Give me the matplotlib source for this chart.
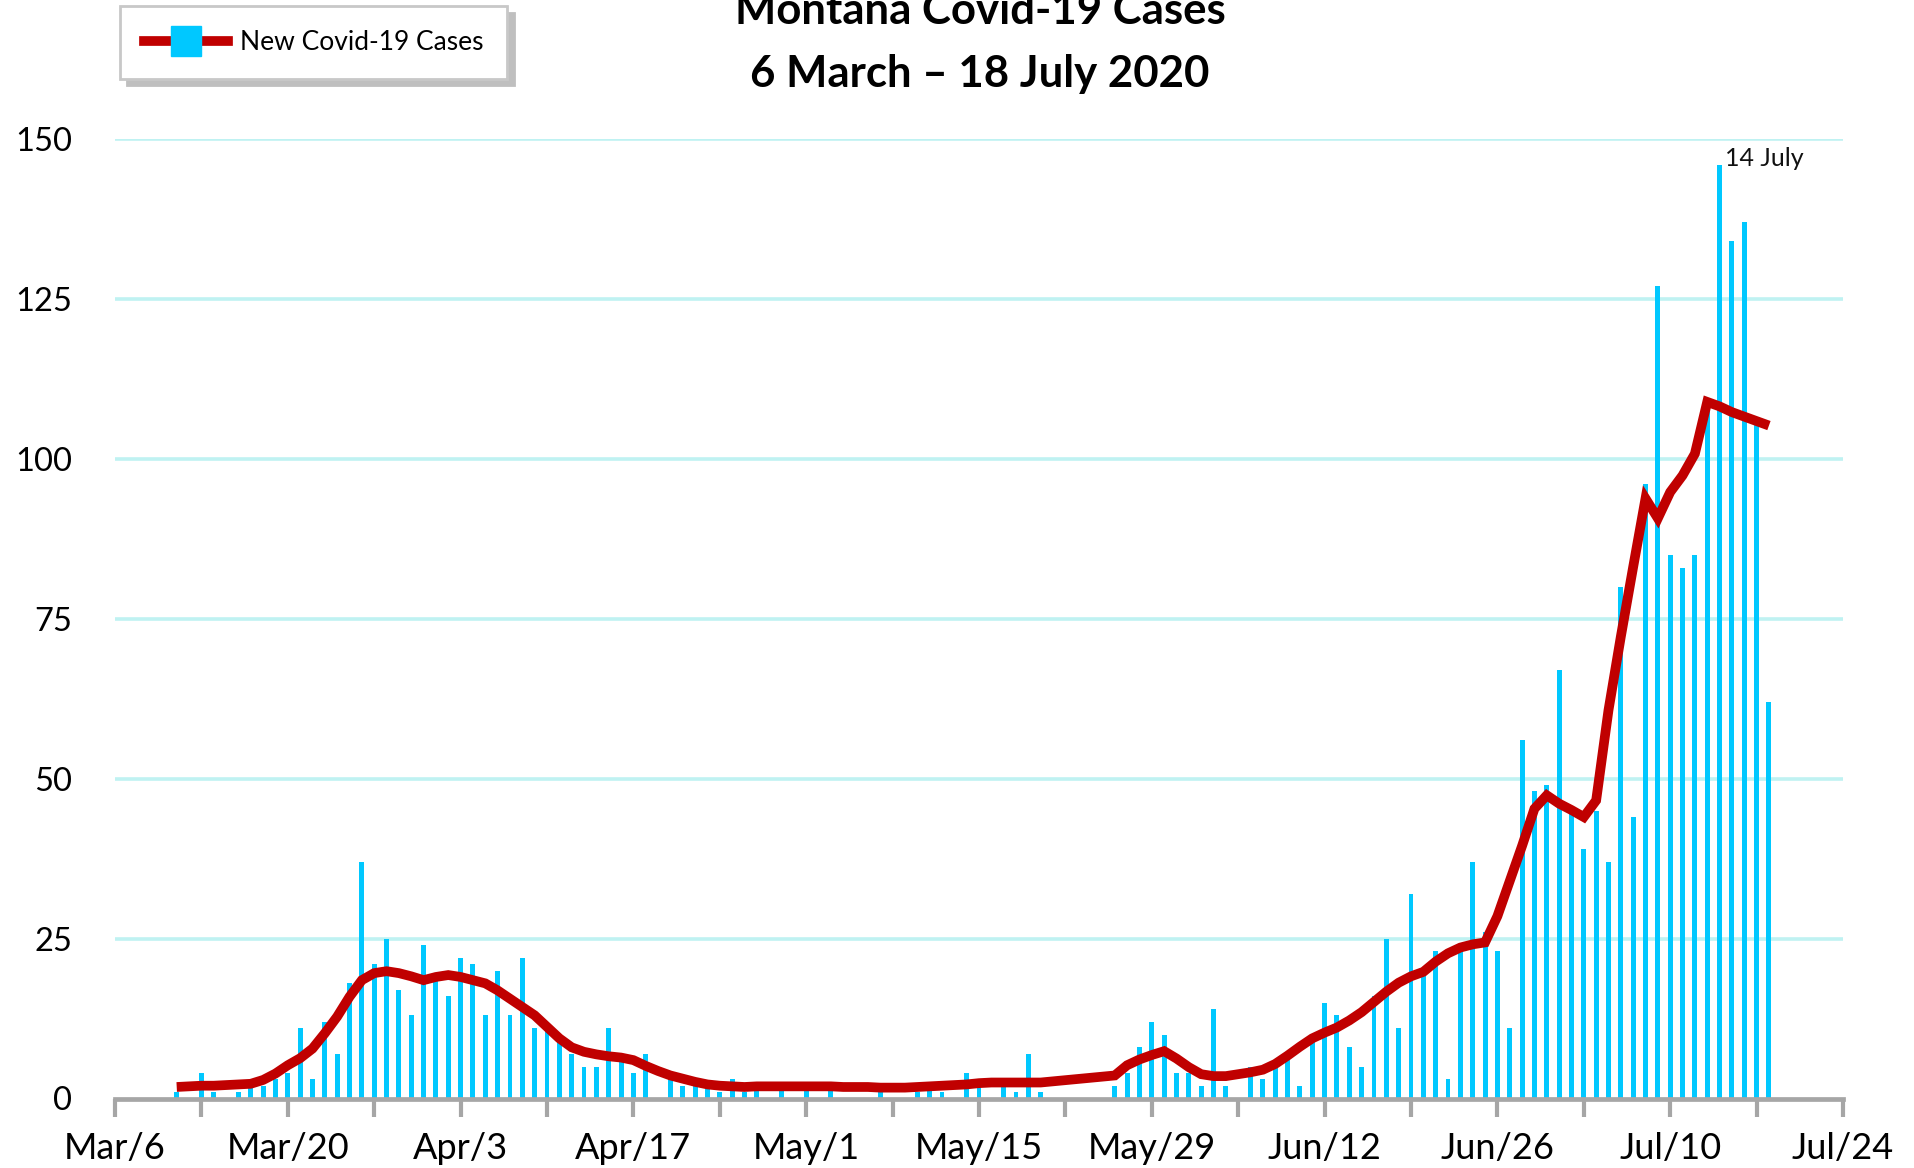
import numpy as np
import matplotlib
matplotlib.use("Agg")
import matplotlib.pyplot as plt
from matplotlib.lines import Line2D

# ---------------- data (day 0 = 6 March 2020) ----------------
start_day = 5  # first value is 11 March
new_cases = [
    1, 0, 4, 1, 0, 1, 2, 2, 3, 4,            # d5-14
    11, 3, 12, 7, 18, 37, 21, 25, 17, 13,     # d15-24
    24, 19, 16, 22, 21, 13, 20, 13, 22, 11,   # d25-34
    12, 9, 7, 5, 5, 11, 7, 4, 7, 0,           # d35-44
    3, 2, 2, 2, 1, 3, 1, 2, 0, 2,             # d45-54
    0, 2, 0, 2, 0, 0, 0, 1, 0, 0,             # d55-64
    1, 2, 1, 0, 4, 2, 0, 2, 1, 7,             # d65-74
    1, 0, 0, 0, 0, 0, 2, 4, 8, 12,            # d75-84
    10, 4, 4, 2, 14, 2, 0, 5, 3, 5,           # d85-94
    6, 2, 9, 15, 13, 8, 5, 16, 25, 11,        # d95-104
    32, 20, 23, 3, 23, 37, 26, 23, 11, 56,    # d105-114
    48, 49, 67, 45, 39, 45, 37, 80, 44, 96,   # d115-124
    127, 85, 83, 85, 108, 146, 134, 137, 106, 62,  # d125-134
]
# smoothed trend line (NaN = no point on the line)
trend = [
    1.8, 1.9, 2.0, 2.0, 2.1, 2.2, 2.3, 2.9, 3.9, 5.2,
    6.3, 7.8, 10.2, 12.8, 15.9, 18.5, 19.6, 19.9, 19.6, 19.1,
    18.5, 19.0, 19.3, 19.0, 18.5, 18.0, 16.9, 15.6, 14.3, 13.0,
    11.2, 9.4, 8.0, 7.3, 6.9, 6.6, 6.4, 6.0, 5.1, 4.3,
    3.6, 3.1, 2.6, 2.2, 2.0, 1.9, 1.8, 1.9, 1.9, 1.9,
    1.9, 1.9, 1.9, 1.9, 1.8, 1.8, 1.8, 1.7, 1.7, 1.7,
    1.8, 1.9, 2.0, 2.1, 2.2, 2.4, 2.5, 2.5, 2.5, 2.5,
    2.5, np.nan, np.nan, np.nan, np.nan, np.nan, 3.6, 5.2, 6.1, 6.8,
    7.4, 6.25, 4.9, 3.8, 3.5, 3.5, 3.8, 4.1, 4.5, 5.4,
    6.7, 8.1, 9.4, 10.3, 11.1, 12.2, 13.5, 15.1, 16.7, 18.1,
    19.1, 19.8, 21.4, 22.7, 23.6, 24.1, 24.4, 28.5, 34.0, 39.5,
    45.3, 47.4, 46.1, 45.1, 44.0, 46.6, 60.7, 72.2, 83.1, 93.8,
    90.7, 94.8, 97.4, 100.8, 108.9, 108.2, 107.3, 106.6, 105.9, 105.2,
]
tick_labels = ["Mar/6", "Mar/20", "Apr/3", "Apr/17", "May/1", "May/15",
               "May/29", "Jun/12", "Jun/26", "Jul/10", "Jul/24"]
y_ticks = [0, 25, 50, 75, 100, 125, 150]
peak_label = "14 July"
peak_day = 130

days = np.arange(start_day, start_day + len(new_cases))
trend_arr = np.array(trend, dtype=float)
mask = ~np.isnan(trend_arr)

FONT = ["Lato", "DejaVu Sans"]
plt.rcParams["font.family"] = FONT

BAR = "#00c8ff"
RED = "#c00000"
GRID = "#bff2f2"
AXG = "#a6a6a6"

fig = plt.figure(figsize=(19.15, 11.68), dpi=100)
ax = fig.add_axes([115 / 1915, 69.5 / 1168, (1843 - 115) / 1915, (1029 - 69.5) / 1168])

ax.set_xlim(0, 140)
ax.set_ylim(0, 150)

ax.bar(days, new_cases, width=0.4, color=BAR, zorder=2)
ax.plot(days[mask], trend_arr[mask], color=RED, lw=7, zorder=3,
        solid_joinstyle="miter", solid_capstyle="butt")

# grid
ax.set_yticks(y_ticks)
ax.set_yticklabels([str(v) for v in y_ticks], fontsize=23.5)
for v in y_ticks[1:]:
    ax.axhline(v, color=GRID, lw=2.6, zorder=1)
ax.tick_params(axis="y", length=0, pad=31)

# x ticks
major = np.arange(0, 141, 14)
minor = np.arange(7, 141, 14)
ax.set_xticks(major)
ax.set_xticklabels(tick_labels, fontsize=26)
ax.set_xticks(minor, minor=True)
ax.tick_params(axis="x", which="both", length=13, width=3, color=AXG,
               direction="out", pad=11)

for s in ["top", "right", "left"]:
    ax.spines[s].set_visible(False)
ax.spines["bottom"].set_color(AXG)
ax.spines["bottom"].set_linewidth(3.4)
ax.spines["bottom"].set_zorder(4)

ax.text(peak_day + 0.4, 147, peak_label, fontsize=18, ha="left",
        va="center", color="#111111")

# title
fig.text(0.5117, 0.991, "Montana Covid-19 Cases", ha="center", va="center",
         fontsize=31.5, fontweight="bold")
fig.text(0.5117, 0.9365, "6 March \u2013 18 July 2020", ha="center",
         va="center", fontsize=31.5, fontweight="bold")

# legend
handle = Line2D([], [], color=RED, lw=7, marker="s", markersize=22,
                markerfacecolor=BAR, markeredgecolor=BAR)
leg = fig.legend([handle], ["New Covid-19 Cases"], loc="upper left",
                 bbox_to_anchor=(120 / 1915, 1 - 6 / 1168),
                 bbox_transform=fig.transFigure, fontsize=19,
                 frameon=True, fancybox=False,
                 shadow={"ox": 5, "oy": -5, "color": "#bfbfbf", "alpha": 1},
                 handlelength=3.2, handletextpad=0.45, borderpad=0.9,
                 borderaxespad=0)
leg.get_frame().set_edgecolor("#c8c8c8")
leg.get_frame().set_linewidth(2)

fig.savefig("out.png", dpi=100)
